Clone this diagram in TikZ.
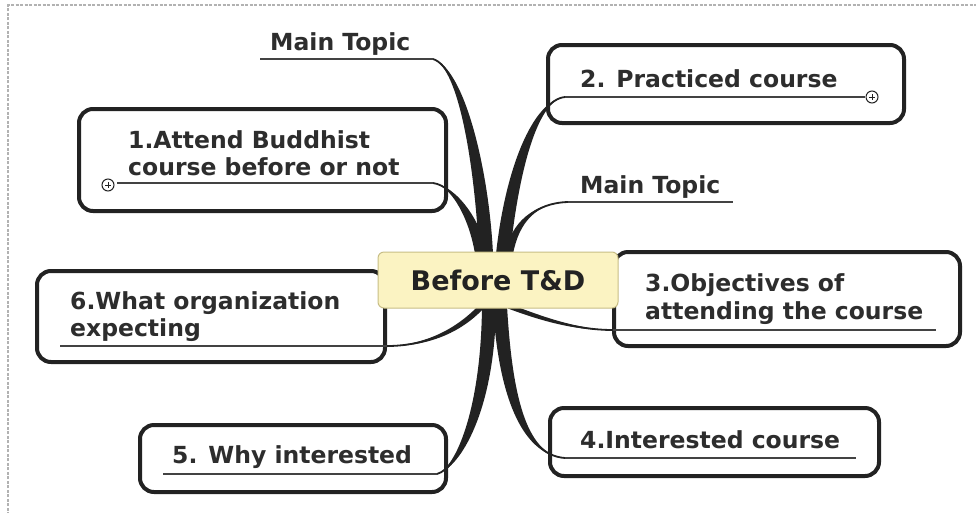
\documentclass[tikz,border=0pt]{standalone}
\usepackage{fontspec}
\setmainfont{DejaVu Sans}
\usetikzlibrary{calc}
\definecolor{ink}{HTML}{222222}
\definecolor{cfill}{HTML}{FBF3C2}
\definecolor{cdraw}{HTML}{C8BE86}
\tikzset{
 box/.style={draw=ink, line width=4pt, rounded corners=14pt, fill=white, inner sep=0pt},
 brc/.style={ink},
 uline/.style={draw=ink!85, line width=1.8pt},
 lbl/.style={anchor=base west, inner sep=0pt, font=\fontsize{23.5}{28}\selectfont\bfseries, text=ink!95},
 centerbox/.style={draw=cdraw, line width=1pt, fill=cfill, rounded corners=6pt, inner sep=0pt,
   minimum width=240pt, minimum height=56pt, font=\fontsize{27}{32}\selectfont\bfseries, text=ink},
 plusc/.style={circle, draw=ink, fill=white, line width=1pt, minimum size=12pt, inner sep=0pt,
   path picture={\draw[ink, line width=0.9pt]
     ([xshift=-3pt]path picture bounding box.center) -- ([xshift=3pt]path picture bounding box.center)
     ([yshift=-3pt]path picture bounding box.center) -- ([yshift=3pt]path picture bounding box.center);}}
}
\newcommand{\branchto}[5]{%
 \fill[brc] ($(#1)+#2$) .. controls ($#3+#2$) and ($#4+0.35*#2$) .. (#5) .. controls ($#4-0.35*#2$) and ($#3-#2$) .. ($(#1)-#2$) -- cycle;
 \draw[brc, line width=1.8pt] (#1) .. controls #3 and #4 .. (#5);}
\begin{document}
\begin{tikzpicture}[x=1pt,y=-1pt]
\useasboundingbox (0,0) rectangle (976,512);
\fill[white] (0,0) rectangle (976,512);
\draw[black!30, dashed, dash pattern=on 3pt off 1.5pt, line width=1.2pt] (8,515) -- (8,5) -- (980,5);

% boxes
\node[box, minimum width=367pt, minimum height=102pt] (b1) at (262.5,160) {};
\node[box, minimum width=356pt, minimum height=78pt] (b2) at (726,84) {};
\node[box, minimum width=346pt, minimum height=94pt] (b3) at (787,299) {};
\node[box, minimum width=329pt, minimum height=68pt] (b4) at (714.5,442) {};
\node[box, minimum width=306pt, minimum height=67pt] (b5) at (293,458.5) {};
\node[box, minimum width=348pt, minimum height=91pt] (b6) at (211,316.5) {};

% hub points and ends
\coordinate (hMT1) at (486,254); \coordinate (eMT1) at (433,59);  \coordinate (uMT1) at (260,59);
\coordinate (hB1) at (481,254);  \coordinate (eB1) at (433,183);  \coordinate (uB1) at (117,183);
\coordinate (hB2) at (503,254);  \coordinate (eB2) at (565,97);   \coordinate (uB2) at (865,97);
\coordinate (hMT2) at (509,254); \coordinate (eMT2) at (568,202); \coordinate (uMT2) at (733,202);
\coordinate (hB6) at (482,306);  \coordinate (eB6) at (387,346);  \coordinate (uB6) at (60,346);
\coordinate (hB3) at (508,306);  \coordinate (eB3) at (613,330);  \coordinate (uB3) at (936,330);
\coordinate (hB4) at (500,306);  \coordinate (eB4) at (565,458);  \coordinate (uB4) at (856,458);
\coordinate (hB5) at (489,306);  \coordinate (eB5) at (437,474);  \coordinate (uB5) at (163,474);

% branches
\branchto{hMT1}{(7,0)}{(482,170)}{(462,68)}{eMT1}
\branchto{hB1}{(6,0)}{(476,222)}{(455,186)}{eB1}
\branchto{hB2}{(7,0)}{(512,170)}{(535,100)}{eB2}
\branchto{hMT2}{(4,0)}{(515,222)}{(535,203)}{eMT2}
\branchto{hB6}{(2,2)}{(455,335)}{(420,346)}{eB6}
\branchto{hB3}{(0,2.5)}{(540,318)}{(575,330)}{eB3}
\branchto{hB4}{(7,0)}{(505,390)}{(522,455)}{eB4}
\branchto{hB5}{(7,0)}{(488,410)}{(458,468)}{eB5}

% underlines
\draw[uline] (eMT1) -- (uMT1);
\draw[uline] (eB1) -- (uB1);
\draw[uline] (eB2) -- (uB2);
\draw[uline] (eMT2) -- (uMT2);
\draw[uline] (eB6) -- (uB6);
\draw[uline] (eB3) -- (uB3);
\draw[uline] (eB4) -- (uB4);
\draw[uline] (eB5) -- (uB5);

\node[plusc] (p1) at (108,185) {};
\node[plusc] (p2) at (872,97) {};

% center
\node[centerbox] (c) at (498,280) {Before T\&D};

% labels
\node[lbl] (tMT1) at (270,50) {Main Topic};
\node[lbl] (t1a) at (128,148) {1.Attend Buddhist};
\node[lbl] (t1b) at (128,175) {course before or not};
\node[lbl] (t2) at (580,87) {2. Practiced course};
\node[lbl] (tMT2) at (580,193) {Main Topic};
\node[lbl] (t3a) at (645,291) {3.Objectives of};
\node[lbl] (t3b) at (645,319) {attending the course};
\node[lbl] (t4) at (580,448) {4.Interested course};
\node[lbl] (t5) at (172,463) {5. Why interested};
\node[lbl] (t6a) at (70,309) {6.What organization};
\node[lbl] (t6b) at (70,336) {expecting};
\end{tikzpicture}
\end{document}
